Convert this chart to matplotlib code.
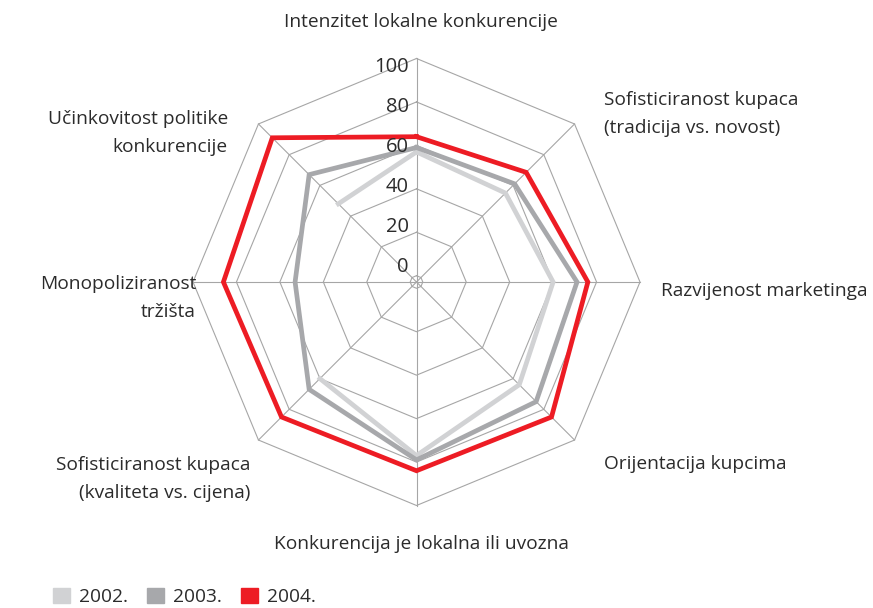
import numpy as np
import matplotlib.pyplot as plt
from matplotlib.patches import Patch

plt.rcParams['font.family'] = ['Open Sans', 'DejaVu Sans']

categories = ['Intenzitet lokalne konkurencije',
              'Sofisticiranost kupaca\n(tradicija vs. novost)',
              'Razvijenost marketinga',
              'Orijentacija kupcima',
              'Konkurencija je lokalna ili uvozna',
              'Sofisticiranost kupaca\n(kvaliteta vs. cijena)',
              'Monopoliziranost\ntržišta',
              'Učinkovitost politike\nkonkurencije']
years = ['2002.', '2003.', '2004.']
v2002 = [57, 55, 60, 64, 77, 60, np.nan, 48]
v2003 = [59, 61, 71, 75, 79, 67, 53, 67]
v2004 = [64, 68.5, 76, 85, 84, 85, 86, 91]
colors = ['#d1d2d4', '#a7a8ab', '#ed1c24']
rticks = [0, 20, 40, 60, 80, 100]

W, H = 873, 608
fig = plt.figure(figsize=(W / 100, H / 100), dpi=100)
cx, cy, R = 416.5, 282, 223.5
ax = fig.add_axes([(cx - R) / W, (H - cy - R) / H, 2 * R / W, 2 * R / H], projection='polar')
ax.set_theta_offset(np.pi / 2)
ax.set_theta_direction(-1)
ax.set_ylim(-2.9, 100)
ax.grid(False)
ax.spines['polar'].set_visible(False)
ax.set_xticks([])
ax.set_yticks([])
ax.patch.set_alpha(0)

n = len(categories)
ang = np.arange(n) * 2 * np.pi / n
ang_c = np.append(ang, ang[0])

grid_col = '#a6a6a6'
for lv in rticks:
    ax.plot(ang_c, [lv] * (n + 1), color=grid_col, lw=0.8, zorder=1, clip_on=False)
for a in ang:
    ax.plot([a, a], [-2.9, 100], color=grid_col, lw=0.8, zorder=1, clip_on=False)

for vals, c in zip([v2002, v2003, v2004], colors):
    vv = np.append(vals, vals[0])
    ax.plot(ang_c, vv, color=c, lw=3.4, zorder=3, solid_joinstyle='miter', clip_on=False)

txt = '#2b2b2b'
fs = 13.8
for i, t in enumerate(rticks[::-1]):
    fig.text(409 / W, 1 - (67 + 40 * i) / H, str(t), ha='right', va='center', fontsize=14.5, color=txt)


def ftext(x, y, s, ha):
    fig.text(x / W, 1 - y / H, s, ha=ha, va='center', fontsize=fs, color=txt, linespacing=1.78)


ftext(421, 22, categories[0], 'center')
ftext(604, 114, categories[1], 'left')
ftext(661, 291, categories[2], 'left')
ftext(604, 464, categories[3], 'left')
ftext(421, 544, categories[4], 'center')
ftext(250, 479, categories[5], 'right')
ftext(196, 298, categories[6], 'right')
ftext(228, 133, categories[7], 'right')

handles = [Patch(color=c, label=y) for c, y in zip(colors, years)]
fig.legend(handles=handles, loc='center left', bbox_to_anchor=(36 / W, 1 - 597 / H), ncol=3,
           frameon=False, fontsize=fs, handlelength=0.85, handleheight=0.85, handletextpad=0.5,
           columnspacing=1.0, labelcolor=txt)

fig.savefig('out.png', dpi=100)
